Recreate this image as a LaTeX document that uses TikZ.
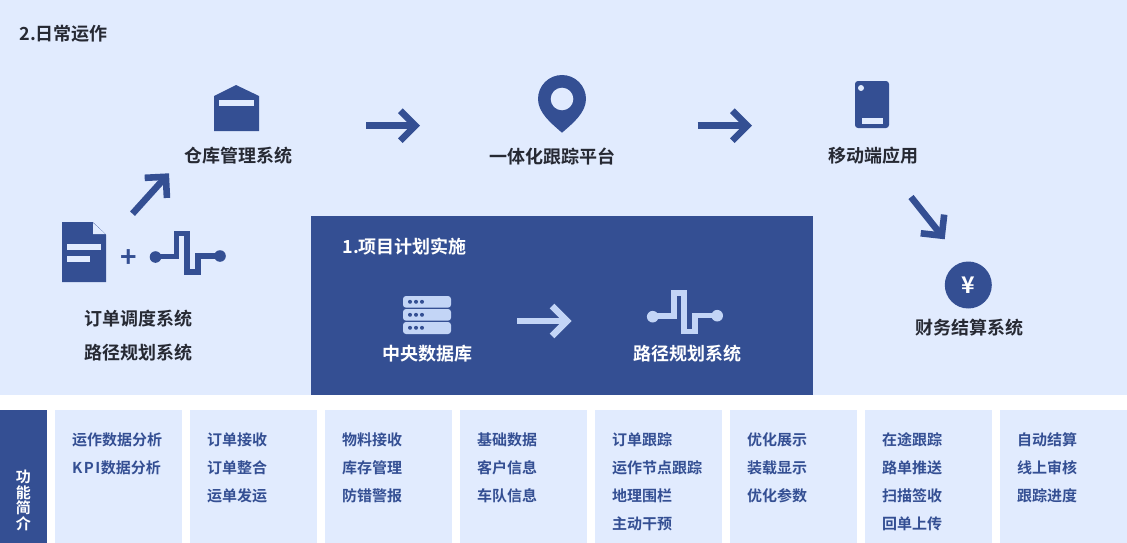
\documentclass[tikz,border=0pt]{standalone}
\usepackage{fontspec}
\setmainfont{Noto Sans CJK SC}[BoldFont={* Bold}]
\usetikzlibrary{arrows.meta}
\definecolor{panel}{HTML}{E1EBFE}
\definecolor{navy}{HTML}{344F93}
\definecolor{pale}{HTML}{C3D5F6}
\definecolor{ink}{HTML}{262933}
\tikzset{
  x=1pt,y=-1pt,
  bare/.style={inner sep=0pt,outer sep=0pt},
  box/.style={bare,anchor=north west,minimum height=133pt},
  card/.style={box,fill=panel,minimum width=127pt},
  cardtext/.style={bare,anchor=north west,align=left,text=navy,font=\fontsize{15}{28}\selectfont\bfseries},
  title/.style={bare,text=ink,font=\fontsize{18}{18}\selectfont\bfseries},
  darktitle/.style={title,text=white},
  flow/.style={line width=6.6pt,-{Straight Barb[length=15pt,width=30pt,line width=6.6pt]}},
  route/.style={line width=5.6pt,miter limit=10},
}
\newcommand{\routeicon}[3]{%
  \begin{scope}[shift={(#1,#2)}]
    \draw[route,draw=#3] (155.5,256.5) -- (176.5,256.5) -- (176.5,233.5) -- (187,233.5) -- (187,271.7) -- (198,271.7) -- (198,255.7) -- (220,255.7);
    \fill[#3] (155.5,257) circle[radius=5.8];
    \fill[#3] (220,256) circle[radius=5.8];
  \end{scope}}
\begin{document}
\begin{tikzpicture}
\useasboundingbox (0,0) rectangle (1127,543);
\fill[white] (0,0) rectangle (1127,543);
\fill[panel] (0,0) rectangle (1127,395);
\node[bare,fill=navy,anchor=north west,minimum width=502pt,minimum height=179pt] (plan) at (311,216) {};

% headings
\node[title,anchor=west] (daily) at (19.5,34) {2.日常运作};
\node[darktitle,anchor=west] (plantitle) at (342.5,247) {1.项目计划实施};

% warehouse
\fill[navy] (214,96) -- (236,85) -- (259,96) -- (259,131) -- (214,131) -- cycle;
\fill[panel] (219,100) rectangle (254,106);
\node[title] (wms) at (238,156) {仓库管理系统};

% pin
\fill[navy] (562,132.7) .. controls (552,124) and (538,113) .. (538,99) arc[start angle=180,end angle=360,radius=24] .. controls (586,113) and (572,124) .. (562,132.7) -- cycle;
\fill[panel] (562,99) circle[radius=11.3];
\node[title] (track) at (552,157) {一体化跟踪平台};

% phone
\fill[navy,rounded corners=3pt] (855,81) rectangle (889,128);
\fill[panel] (861,88) circle[radius=3];
\fill[panel] (862,118) rectangle (883.3,124);
\node[title] (mobile) at (873,156) {移动端应用};

% yen
\node[bare,circle,fill=navy,minimum size=47pt,text=white,font=\fontsize{23}{23}\selectfont\bfseries] (yen) at (968.3,285) {¥};
\node[title] (finance) at (969,328) {财务结算系统};

% document
\fill[navy] (62,222) -- (92.7,222) -- (106,234.5) -- (106,282) -- (62,282) -- cycle;
\fill[panel] (93.2,223) -- (105.3,234) -- (93.2,234) -- cycle;
\fill[panel] (67,244) rectangle (101,250);
\fill[panel] (67,256) rectangle (90,262);
\node[bare,text=navy,font=\fontsize{28}{28}\selectfont\bfseries] (plus) at (128.3,258.5) {+};
\routeicon{0}{0}{navy}
\node[title] (dispatch) at (138,319) {订单调度系统};
\node[title] (routeA) at (138,353) {路径规划系统};

% server
\foreach \y/\h in {296/307.7,309/320.7,322/334}{
  \fill[pale,rounded corners=3pt] (403,\y) rectangle (451,\h);
  \foreach \x in {410,416,422}
    \fill[navy] (\x,\y+5.8) circle[radius=2];
}
\node[darktitle] (central) at (427,354) {中央数据库};
\routeicon{497.2}{59.7}{pale}
\node[darktitle] (routeB) at (687,354) {路径规划系统};

% arrows
\coordinate (a1s) at (132.5,213.7); \coordinate (a1e) at (169,173.3);
\coordinate (a2s) at (366,125.7);   \coordinate (a2e) at (420,125.7);
\coordinate (a3s) at (697.7,125.7); \coordinate (a3e) at (752,125.7);
\coordinate (a4s) at (911,197);     \coordinate (a4e) at (944.7,239.3);
\coordinate (a5s) at (517,321);     \coordinate (a5e) at (571.7,321);
\draw[flow,draw=navy] (a1s) -- (a1e);
\draw[flow,draw=navy] (a2s) -- (a2e);
\draw[flow,draw=navy] (a3s) -- (a3e);
\draw[flow,draw=navy] (a4s) -- (a4e);
\draw[flow,draw=pale] (a5s) -- (a5e);

% function strip
\node[box,fill=navy,minimum width=47pt] (side) at (0,410) {};
\node[bare,text=white,align=center,font=\fontsize{15}{15.4}\selectfont\bfseries] (sidetext) at (23.5,500.5) {功\\能\\简\\介};
\foreach \n/\x in {1/55,2/190,3/325,4/460,5/595,6/730,7/865,8/1000}
  \node[card] (c\n) at (\x,410) {};
\node[cardtext] (t1) at (72,433) {运作数据分析\\K\kern1.6pt P\kern1.6pt I\kern0.5pt 数据分析};
\node[cardtext] (t2) at (207,433) {订单接收\\订单整合\\运单发运};
\node[cardtext] (t3) at (342,433) {物料接收\\库存管理\\防错警报};
\node[cardtext] (t4) at (477,433) {基础数据\\客户信息\\车队信息};
\node[cardtext] (t5) at (612,433) {订单跟踪\\运作节点跟踪\\地理围栏\\主动干预};
\node[cardtext] (t6) at (747,433) {优化展示\\装载显示\\优化参数};
\node[cardtext] (t7) at (882,433) {在途跟踪\\路单推送\\扫描签收\\回单上传};
\node[cardtext] (t8) at (1017,433) {自动结算\\线上审核\\跟踪进度};
\end{tikzpicture}
\end{document}
